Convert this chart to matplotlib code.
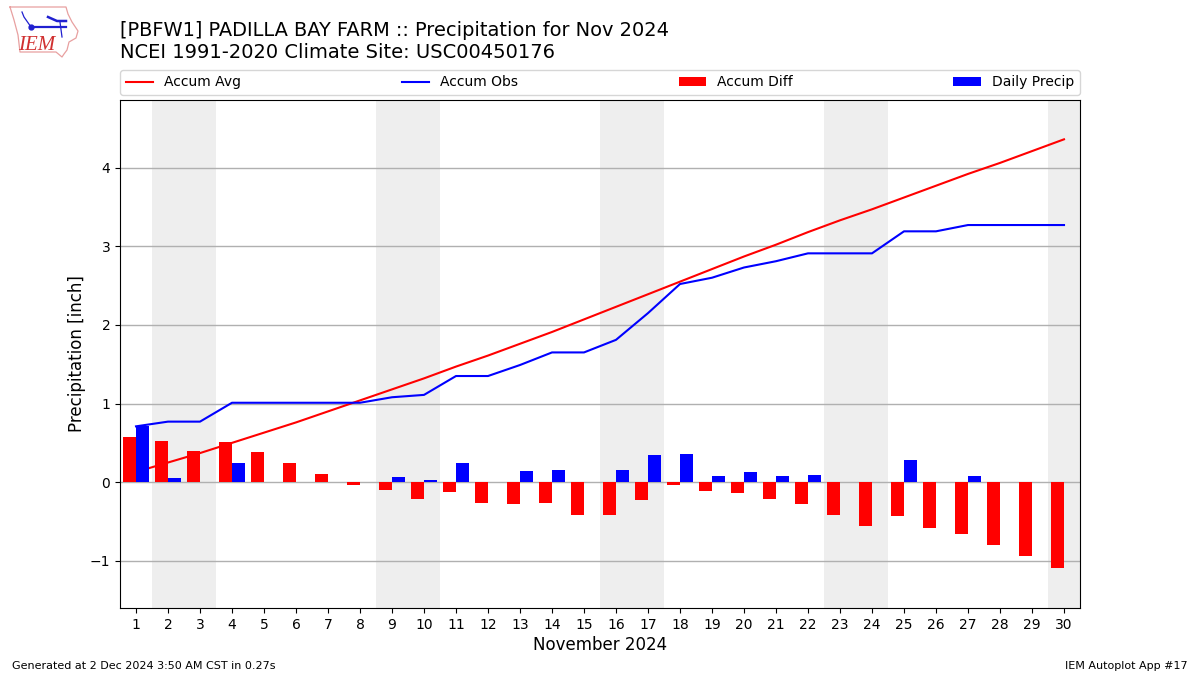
import matplotlib
matplotlib.use("Agg")
import matplotlib.pyplot as plt
import numpy as np

days = list(range(1, 31))
accum_avg = [0.13, 0.25, 0.37, 0.50, 0.63, 0.76, 0.90, 1.04, 1.18, 1.32,
             1.47, 1.61, 1.76, 1.91, 2.07, 2.23, 2.39, 2.55, 2.71, 2.87,
             3.02, 3.18, 3.33, 3.47, 3.62, 3.77, 3.92, 4.06, 4.21, 4.36]
accum_obs = [0.71, 0.77, 0.77, 1.01, 1.01, 1.01, 1.01, 1.01, 1.08, 1.11,
             1.35, 1.35, 1.49, 1.65, 1.65, 1.81, 2.15, 2.52, 2.60, 2.73,
             2.81, 2.91, 2.91, 2.91, 3.19, 3.19, 3.27, 3.27, 3.27, 3.27]
accum_diff = [0.58, 0.52, 0.40, 0.51, 0.38, 0.25, 0.11, -0.04, -0.10, -0.21,
              -0.12, -0.26, -0.28, -0.26, -0.42, -0.42, -0.23, -0.04, -0.11, -0.14,
              -0.21, -0.28, -0.42, -0.56, -0.43, -0.58, -0.66, -0.80, -0.94, -1.09]
daily_precip = [0.72, 0.05, 0, 0.25, 0, 0, 0, 0, 0.07, 0.03,
                0.24, 0, 0.14, 0.16, 0, 0.16, 0.34, 0.36, 0.08, 0.13,
                0.08, 0.09, 0, 0, 0.28, 0, 0.08, 0, 0, 0]
weekend_spans = [(1.5, 3.5), (8.5, 10.5), (15.5, 17.5), (22.5, 24.5), (29.5, 30.5)]

W, H = 1200, 675
fig = plt.figure(figsize=(12, 6.75), dpi=100)
ax = fig.add_axes([120 / W, 1 - 608 / H, 960 / W, 508 / H])

for a, b in weekend_spans:
    ax.axvspan(a, b, color="#eeeeee", lw=0, zorder=0)
ax.grid(True, axis="y", color="#b0b0b0", lw=1, zorder=1)
ax.set_axisbelow(True)

x = np.array(days)
ax.bar(x, accum_diff, width=-0.4, align="edge", color="red", label="Accum Diff", zorder=2)
ax.plot(x, accum_avg, color="red", lw=1.5, label="Accum Avg", zorder=3)
ax.plot(x, accum_obs, color="blue", lw=1.5, label="Accum Obs", zorder=3)
ax.bar(x, daily_precip, width=0.4, align="edge", color="blue", label="Daily Precip", zorder=4)

ax.set_xlim(0.5, 30.5)
ax.set_ylim(-1.6, 4.86)
ax.set_xticks(days)
ax.set_yticks([-1, 0, 1, 2, 3, 4])
ax.tick_params(labelsize=10)
ax.set_xlabel("November 2024", fontsize=12, labelpad=2.9)
ax.set_ylabel("Precipitation [inch]", fontsize=12, labelpad=2.6)

h, l = ax.get_legend_handles_labels()
order = [l.index(n) for n in ["Accum Avg", "Accum Obs", "Accum Diff", "Daily Precip"]]
ax.legend([h[i] for i in order], [l[i] for i in order], ncol=4, mode="expand",
          loc="lower left", bbox_to_anchor=(0, 1 + 5 / 508, 1, 26 / 508),
          borderaxespad=0, fontsize=10)

fig.text(120 / W, 1 - 35.5 / H, "[PBFW1] PADILLA BAY FARM :: Precipitation for Nov 2024",
         fontsize=13.98, ha="left", va="baseline")
fig.text(120 / W, 1 - 57.5 / H, "NCEI 1991-2020 Climate Site: USC00450176",
         fontsize=14, ha="left", va="baseline")
fig.text(12 / W, 1 - 671 / H, "Generated at 2 Dec 2024 3:50 AM CST in 0.27s", fontsize=8, ha="left", va="bottom")
fig.text(1188 / W, 1 - 671 / H, "IEM Autoplot App #17", fontsize=8, ha="right", va="bottom")

# logo sketch, in pixel coordinates
logo = fig.add_axes([0, 1 - 60 / H, 90 / W, 60 / H])
logo.set_xlim(0, 90)
logo.set_ylim(60, 0)
logo.axis("off")
outline_x = [10, 66, 68, 72, 78, 76, 69, 67, 64, 62, 56, 20, 18, 14, 10]
outline_y = [7, 7, 14, 22, 31, 38, 42, 50, 54, 57, 52, 52, 35, 20, 7]
logo.plot(outline_x, outline_y, color="#e8a0a0", lw=0.9)
logo.plot([31, 66], [27, 27], color="#2020d0", lw=1.6)
logo.plot([22, 24, 31], [12, 17, 27], color="#2020d0", lw=0.9)
logo.plot([48, 57, 66], [17, 21, 21], color="#2020d0", lw=1.8)
logo.plot([60, 62], [22, 37], color="#2020d0", lw=0.9)
logo.plot([31], [27], "o", color="#2020d0", ms=3.5)
logo.text(37, 45, "IEM", color="#d03030", fontsize=15, family="Liberation Serif",
          style="italic", ha="center", va="center")

fig.savefig("out.png", dpi=100)
